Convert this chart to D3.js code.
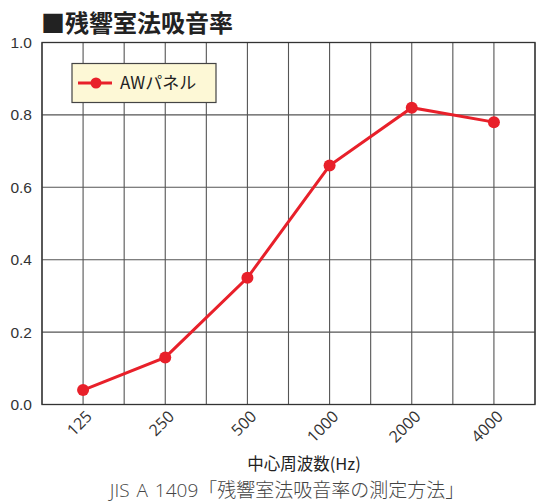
<!DOCTYPE html>
<html>
<head>
<meta charset="utf-8">
<script src="https://cdn.jsdelivr.net/npm/d3@7"></script>
<style>
  html, body { margin: 0; padding: 0; background: #fff; }
  svg { display: block; font-family: "Noto Sans CJK JP", "Noto Sans", sans-serif; }
</style>
</head>
<body>
<svg id="chart" width="553" height="502"></svg>
<script>
// Frequency bands (Hz) and measured absorption coefficients
const frequencies = ["125", "250", "500", "1000", "2000", "4000"];
const absorption = [0.04, 0.13, 0.35, 0.66, 0.82, 0.78];
const yTicks = [0.0, 0.2, 0.4, 0.6, 0.8, 1.0];
const seriesName = "AWパネル";
const titleText = "■残響室法吸音率";
const xTitle = "中心周波数(Hz)";
const caption = "JIS A 1409「残響室法吸音率の測定方法」";

const svg = d3.select("#chart");
const m = { left: 42, right: 535, top: 42.5, bottom: 404.5 };

const x = d3.scaleBand().domain(frequencies).range([m.left, m.right]).padding(0);
const y = d3.scaleLinear().domain([0, 1]).range([m.bottom, m.top]);

const plot = svg.append("g");

// vertical grid: band edges and band centres (two columns per band)
const vLines = [];
frequencies.forEach(f => { vLines.push(x(f)); vLines.push(x(f) + x.bandwidth() / 2); });
vLines.push(m.right);
plot.selectAll("line.vg").data(vLines).join("line")
  .attr("x1", d => d).attr("x2", d => d)
  .attr("y1", m.top).attr("y2", m.bottom)
  .attr("stroke", "#555").attr("stroke-width", 1.1);

// horizontal grid
plot.selectAll("line.hg").data(yTicks).join("line")
  .attr("x1", m.left).attr("x2", m.right)
  .attr("y1", d => y(d)).attr("y2", d => y(d))
  .attr("stroke", "#555").attr("stroke-width", 1.1);

// frame
plot.append("rect")
  .attr("x", m.left).attr("y", m.top)
  .attr("width", m.right - m.left).attr("height", m.bottom - m.top)
  .attr("fill", "none").attr("stroke", "#333").attr("stroke-width", 1.3);

// y tick labels
svg.append("g").selectAll("text").data(yTicks).join("text")
  .attr("x", 32).attr("y", d => y(d))
  .attr("dy", "0.36em")
  .attr("text-anchor", "end")
  .attr("font-family", "Liberation Sans, Arial, sans-serif")
  .attr("font-size", 15.5).attr("fill", "#333")
  .text(d => d3.format(".1f")(d));

// x tick labels, rotated
const cx = f => x(f) + x.bandwidth() / 2;
svg.append("g").selectAll("text").data(frequencies).join("text")
  .attr("transform", f => `translate(${cx(f) + 10},${m.bottom + 13}) rotate(-45)`)
  .attr("text-anchor", "end")
  .attr("font-family", "Open Sans, sans-serif")
  .attr("font-size", 16).attr("fill", "#333")
  .text(f => f);

// data line
const line = d3.line().x((d, i) => cx(frequencies[i])).y(d => y(d));
svg.append("path").datum(absorption)
  .attr("d", line)
  .attr("fill", "none").attr("stroke", "#e8202a").attr("stroke-width", 3);
svg.append("g").selectAll("circle").data(absorption).join("circle")
  .attr("cx", (d, i) => cx(frequencies[i])).attr("cy", d => y(d))
  .attr("r", 6).attr("fill", "#e8202a");

// legend
const lg = svg.append("g");
lg.append("rect").attr("x", 72).attr("y", 63.5).attr("width", 144).attr("height", 39)
  .attr("fill", "#fdf8d6").attr("stroke", "#444").attr("stroke-width", 1.2);
lg.append("line").attr("x1", 78).attr("x2", 112).attr("y1", 83).attr("y2", 83)
  .attr("stroke", "#e8202a").attr("stroke-width", 3);
lg.append("circle").attr("cx", 96).attr("cy", 83).attr("r", 5.5).attr("fill", "#e8202a");
lg.append("text").attr("x", 120).attr("y", 83).attr("dy", "0.36em")
  .attr("font-size", 17).attr("fill", "#222").text(seriesName);

// title
svg.append("text").attr("x", 41).attr("y", 32)
  .attr("font-size", 24).attr("font-weight", "bold").attr("fill", "#222")
  .text(titleText);

// axis title
svg.append("text").attr("x", 304).attr("y", 470)
  .attr("text-anchor", "middle")
  .attr("font-size", 16.5).attr("font-weight", 400).attr("fill", "#222")
  .text(xTitle);

// caption
svg.append("text").attr("x", 287).attr("y", 497)
  .attr("text-anchor", "middle")
  .attr("font-family", "Open Sans, Noto Sans CJK JP, sans-serif")
  .attr("font-size", 19).attr("font-weight", 300).attr("word-spacing", 2)
  .attr("fill", "#444")
  .text(caption);
</script>
</body>
</html>
